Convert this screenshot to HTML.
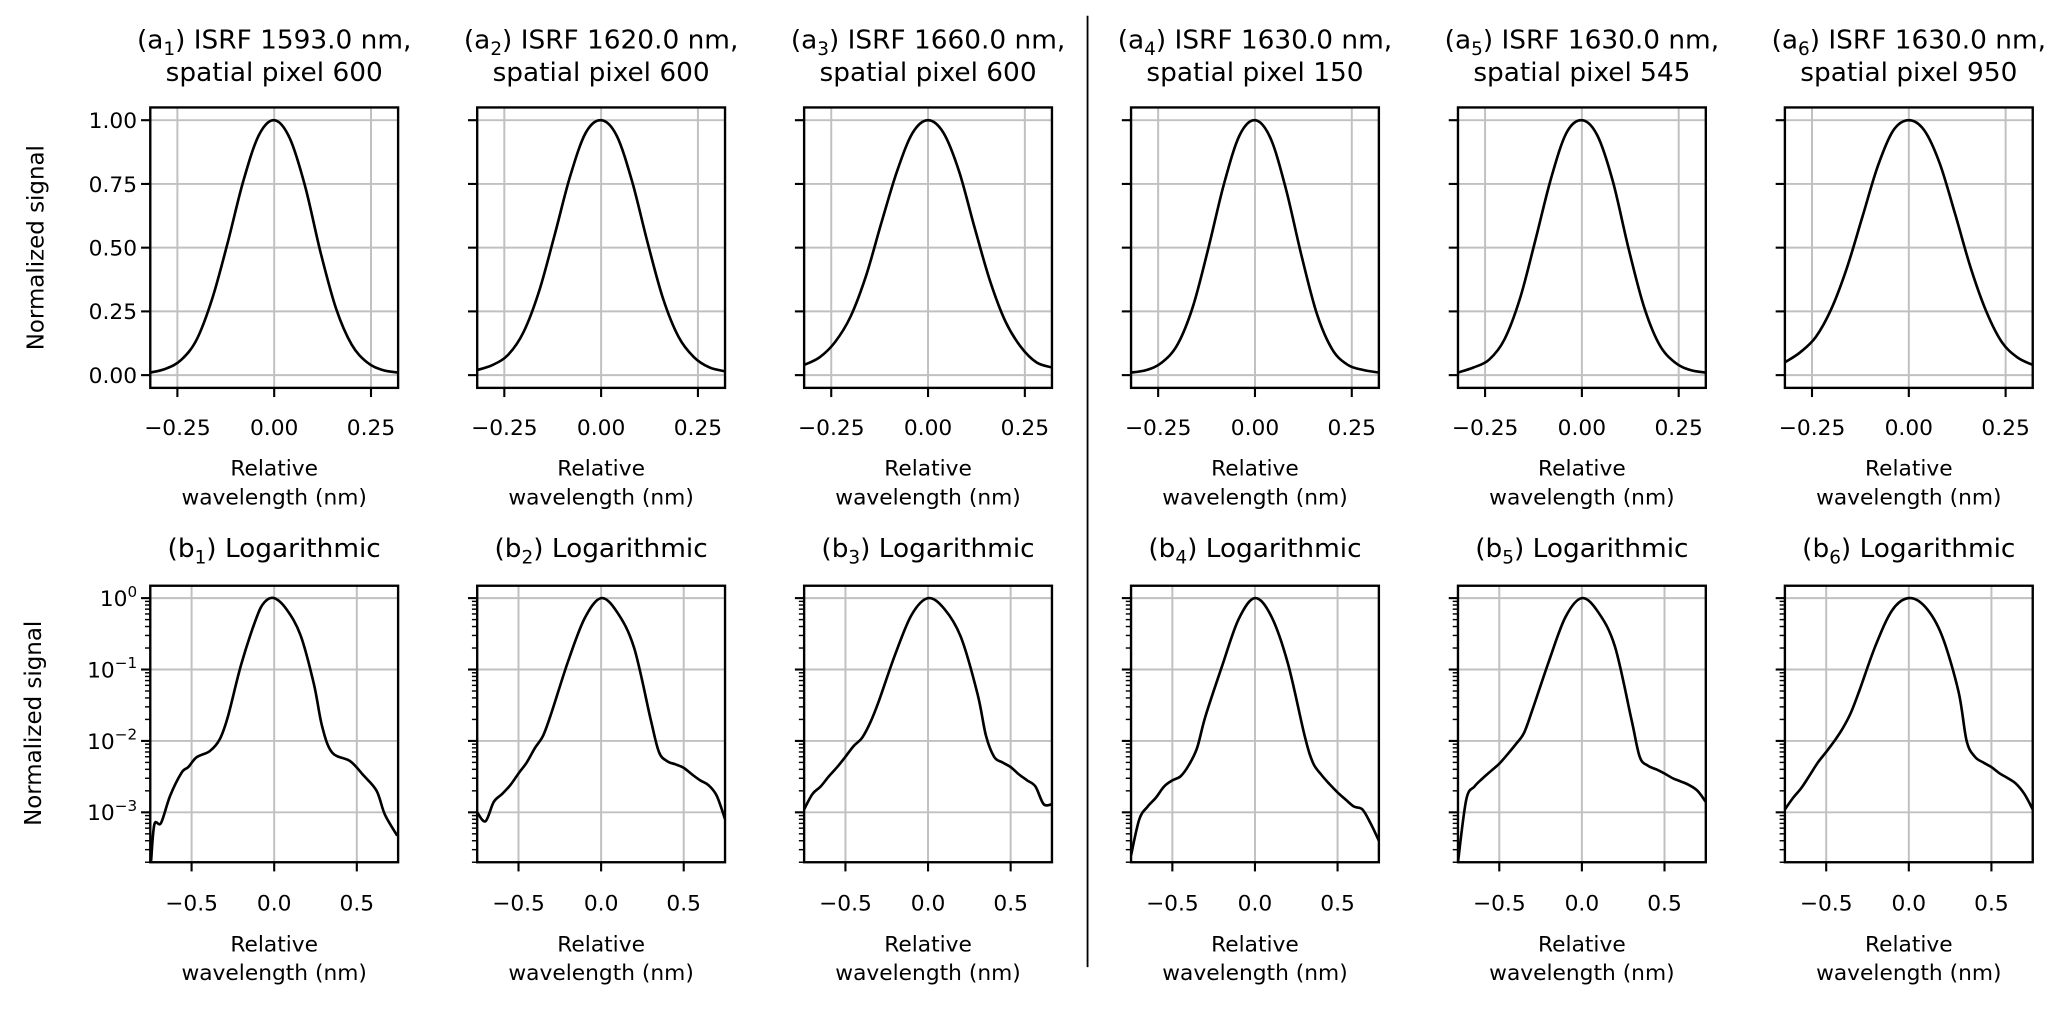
<!DOCTYPE html>
<html><head><meta charset="utf-8"><style>
html,body{margin:0;padding:0;background:#fff;}
svg{display:block;font-family:"DejaVu Sans","Liberation Sans",sans-serif;}
</style></head><body>
<svg id="fig" width="2067" height="1009" viewBox="0 0 1568 770" preserveAspectRatio="none" xmlns="http://www.w3.org/2000/svg"></svg>
<script>
// ---- data ----
const topTitlesA = ["ISRF 1593.0 nm,","ISRF 1620.0 nm,","ISRF 1660.0 nm,","ISRF 1630.0 nm,","ISRF 1630.0 nm,","ISRF 1630.0 nm,"];
const topTitlesB = ["spatial pixel 600","spatial pixel 600","spatial pixel 600","spatial pixel 150","spatial pixel 545","spatial pixel 950"];
const linXTicks = [-0.25, 0, 0.25];
const linXTickLabels = ["\u22120.25","0.00","0.25"];
const linYTicks = [0, 0.25, 0.5, 0.75, 1.0];
const linYTickLabels = ["0.00","0.25","0.50","0.75","1.00"];
const logXTicks = [-0.5, 0, 0.5];
const logXTickLabels = ["\u22120.5","0.0","0.5"];
const logYExps = [0, -1, -2, -3];

const linX = [-0.32,-0.28,-0.24,-0.2,-0.16,-0.12,-0.08,-0.04,0,0.04,0.08,0.12,0.16,0.2,0.24,0.28,0.32];
const a1 = [0.01,0.025,0.06,0.14,0.3,0.52,0.76,0.94,1.0,0.93,0.74,0.48,0.26,0.12,0.05,0.02,0.01];
const a2 = [0.02,0.04,0.08,0.17,0.33,0.55,0.78,0.95,1.0,0.94,0.76,0.52,0.3,0.15,0.07,0.03,0.015];
const a3 = [0.04,0.07,0.13,0.23,0.39,0.6,0.8,0.95,1.0,0.95,0.8,0.58,0.37,0.21,0.11,0.05,0.03];
const a4 = [0.01,0.02,0.05,0.12,0.27,0.5,0.75,0.94,1.0,0.93,0.73,0.47,0.24,0.1,0.04,0.02,0.01];
const a5 = [0.01,0.03,0.06,0.14,0.3,0.53,0.77,0.95,1.0,0.94,0.76,0.5,0.27,0.12,0.05,0.02,0.01];
const a6 = [0.05,0.09,0.15,0.26,0.42,0.62,0.82,0.96,1.0,0.96,0.83,0.63,0.42,0.25,0.13,0.07,0.04];

const b1X = [-0.745,-0.725,-0.685,-0.63,-0.56,-0.52,-0.47,-0.39,-0.33,-0.28,-0.2,-0.11,-0.06,0,0.076,0.16,0.24,0.29,0.35,0.46,0.54,0.62,0.67,0.745];
const b1 = [2.1e-4,6.8e-4,7.1e-4,1.7e-3,3.6e-3,4.3e-3,5.9e-3,7.2e-3,1.05e-2,2.2e-2,0.117,0.51,0.87,1,0.69,0.30,0.063,0.016,6.9e-3,5.2e-3,3.3e-3,2.0e-3,9.3e-4,4.7e-4];
const logX = [-0.75,-0.7,-0.65,-0.6,-0.55,-0.5,-0.45,-0.4,-0.35,-0.3,-0.2,-0.1,0,0.1,0.2,0.3,0.35,0.4,0.45,0.5,0.55,0.6,0.65,0.7,0.75];
const b2 = [1e-3,7.5e-4,1.4e-3,1.8e-3,2.4e-3,3.5e-3,5e-3,8e-3,1.2e-2,2.5e-2,0.13,0.52,1,0.62,0.2,0.02,7e-3,5.2e-3,4.7e-3,4.2e-3,3.4e-3,2.8e-3,2.4e-3,1.7e-3,8e-4];
const b3 = [1.1e-3,1.8e-3,2.3e-3,3.2e-3,4.3e-3,6e-3,8.5e-3,1.1e-2,1.8e-2,3.5e-2,0.16,0.58,1,0.7,0.28,0.045,0.012,6e-3,5e-3,4.3e-3,3.4e-3,2.8e-3,2.3e-3,1.3e-3,1.3e-3];
const b4 = [2.5e-4,8e-4,1.2e-3,1.6e-3,2.3e-3,2.8e-3,3.2e-3,4.6e-3,8e-3,2.2e-2,0.11,0.5,1,0.55,0.12,0.012,5e-3,3.4e-3,2.5e-3,1.9e-3,1.5e-3,1.2e-3,1.1e-3,7e-4,4e-4];
const b5 = [2e-4,1.5e-3,2.3e-3,3e-3,3.8e-3,4.8e-3,6.5e-3,9e-3,1.3e-2,2.7e-2,0.13,0.54,1,0.63,0.21,0.02,6e-3,4.5e-3,4e-3,3.5e-3,3e-3,2.7e-3,2.4e-3,2e-3,1.4e-3];
const b6 = [1.1e-3,1.6e-3,2.2e-3,3.3e-3,5e-3,7e-3,1e-2,1.5e-2,2.5e-2,5e-2,0.22,0.68,1,0.75,0.3,0.05,1e-2,6e-3,5e-3,4.3e-3,3.5e-3,3e-3,2.5e-3,1.8e-3,1.1e-3];

const topSeries = [a1,a2,a3,a4,a5,a6];
const botSeries = [b1,b2,b3,b4,b5,b6];
const botXs = [b1X,logX,logX,logX,logX,logX];

// ---- layout ----
const NS = "http://www.w3.org/2000/svg";
const svg = document.getElementById("fig");
const panelLefts = [114,362,610,858,1106,1354];
const PW = 188;
const TOP = {t:82, b:296, xmin:-0.32, xmax:0.32, ymin:-0.05, ymax:1.05};
const BOT = {t:447, b:658, xmin:-0.75, xmax:0.75, lmin:Math.log10(2e-4), lmax:Math.log10(1.49)};
const GRID = "#c0c0c0";
const FS = 16.5, TFS = 20;

function el(tag, attrs, parent) {
  const e = document.createElementNS(NS, tag);
  for (const k in attrs) e.setAttribute(k, attrs[k]);
  (parent || svg).appendChild(e);
  return e;
}
function txt(s, x, y, size, anchor, parent) {
  const t = el("text", {x:x, y:y, "font-size":size, "text-anchor":anchor || "middle", fill:"#000"}, parent);
  t.textContent = s;
  return t;
}
function smoothPath(pts) {
  let d = "M" + pts[0][0].toFixed(2) + "," + pts[0][1].toFixed(2);
  for (let i = 0; i < pts.length - 1; i++) {
    const p0 = pts[Math.max(0,i-1)], p1 = pts[i], p2 = pts[i+1], p3 = pts[Math.min(pts.length-1,i+2)];
    const c1x = p1[0] + (p2[0]-p0[0])/6, c1y = p1[1] + (p2[1]-p0[1])/6;
    const c2x = p2[0] - (p3[0]-p1[0])/6, c2y = p2[1] - (p3[1]-p1[1])/6;
    d += " C" + c1x.toFixed(2)+","+c1y.toFixed(2)+" "+c2x.toFixed(2)+","+c2y.toFixed(2)+" "+p2[0].toFixed(2)+","+p2[1].toFixed(2);
  }
  return d;
}

for (let i = 0; i < 6; i++) {
  const L = panelLefts[i], R = L + PW;
  // ---------- top linear panel ----------
  const gT = el("g", {});
  
  
  const xs = v => L + (v - TOP.xmin) / (TOP.xmax - TOP.xmin) * PW;
  const ys = v => TOP.b - (v - TOP.ymin) / (TOP.ymax - TOP.ymin) * (TOP.b - TOP.t);
  linXTicks.forEach((v, k) => {
    const x = xs(v);
    el("line", {x1:x, x2:x, y1:TOP.t, y2:TOP.b, stroke:GRID, "stroke-width":1.5}, gT);
    el("line", {x1:x, x2:x, y1:TOP.b, y2:TOP.b+7, stroke:"#000", "stroke-width":1.6}, gT);
    const lab = txt(linXTickLabels[k], x, 332, FS, "middle", gT);
    
    
  });
  linYTicks.forEach((v, k) => {
    const y = ys(v);
    el("line", {x1:L, x2:R, y1:y, y2:y, stroke:GRID, "stroke-width":1.5}, gT);
    el("line", {x1:L-7, x2:L, y1:y, y2:y, stroke:"#000", "stroke-width":1.6}, gT);
    if (i === 0) {
      const lab = txt(linYTickLabels[k], L-10, y+6, FS, "end", gT);
      
      
    }
  });
  const pts = linX.map((x, k) => [xs(x), ys(topSeries[i][k])]);
  const c1 = el("path", {d:smoothPath(pts), fill:"none", stroke:"#000", "stroke-width":2}, gT);
  
  
  el("rect", {x:L, y:TOP.t, width:PW, height:TOP.b-TOP.t, fill:"none", stroke:"#000", "stroke-width":1.8}, gT);
  const t1 = el("text", {x:L+PW/2, y:37, "font-size":TFS, "text-anchor":"middle"}, gT);
  
  
  t1.innerHTML = '(a<tspan font-size="14" dy="5">' + (i+1) + '</tspan><tspan dy="-5">) ' + topTitlesA[i] + '</tspan>';
  txt(topTitlesB[i], L+PW/2, 62, TFS, "middle", gT);
  const xl = txt("Relative", L+PW/2, 363, FS, "middle", gT);
  
  
  txt("wavelength (nm)", L+PW/2, 385, FS, "middle", gT);

  // ---------- bottom log panel ----------
  const gB = el("g", {});
  
  
  const bx = v => L + (v - BOT.xmin) / (BOT.xmax - BOT.xmin) * PW;
  const by = v => BOT.b - (Math.log10(v) - BOT.lmin) / (BOT.lmax - BOT.lmin) * (BOT.b - BOT.t);
  logXTicks.forEach((v, k) => {
    const x = bx(v);
    el("line", {x1:x, x2:x, y1:BOT.t, y2:BOT.b, stroke:GRID, "stroke-width":1.5}, gB);
    el("line", {x1:x, x2:x, y1:BOT.b, y2:BOT.b+7, stroke:"#000", "stroke-width":1.6}, gB);
    const lab = txt(logXTickLabels[k], x, 695, FS, "middle", gB);
    
    
  });
  for (let e = -4; e <= 0; e++) {
    for (let m = 1; m <= 9; m++) {
      const v = m * Math.pow(10, e);
      if (v < 2e-4 || v > 1.49) continue;
      const y = by(v);
      if (m === 1) {
        el("line", {x1:L, x2:R, y1:y, y2:y, stroke:GRID, "stroke-width":1.5}, gB);
        el("line", {x1:L-7, x2:L, y1:y, y2:y, stroke:"#000", "stroke-width":1.6}, gB);
      } else {
        el("line", {x1:L-4, x2:L, y1:y, y2:y, stroke:"#000", "stroke-width":1.1}, gB);
      }
    }
  }
  if (i === 0) {
    logYExps.forEach(ex => {
      const y = by(Math.pow(10, ex));
      const t = el("text", {x:L-10, y:y+6, "font-size":FS, "text-anchor":"end"}, gB);
      
      
      t.innerHTML = '10<tspan font-size="11.5" dy="-7">' + (ex < 0 ? '\u2212' + (-ex) : ex) + '</tspan>';
    });
  }
  const cp = el("clipPath", {id:"clipb"+i}, gB);
  el("rect", {x:L, y:BOT.t, width:PW, height:BOT.b-BOT.t}, cp);
  const pb = botXs[i].map((x, k) => [bx(x), by(botSeries[i][k])]);
  const c2 = el("path", {d:smoothPath(pb), fill:"none", stroke:"#000", "stroke-width":2, "clip-path":"url(#clipb"+i+")"}, gB);
  
  
  el("rect", {x:L, y:BOT.t, width:PW, height:BOT.b-BOT.t, fill:"none", stroke:"#000", "stroke-width":1.8}, gB);
  const t2 = el("text", {x:L+PW/2, y:425, "font-size":TFS, "text-anchor":"middle"}, gB);
  
  
  t2.innerHTML = '(b<tspan font-size="14" dy="5">' + (i+1) + '</tspan><tspan dy="-5">) Logarithmic</tspan>';
  const xl2 = txt("Relative", L+PW/2, 726, FS, "middle", gB);
  
  
  txt("wavelength (nm)", L+PW/2, 748, FS, "middle", gB);
}
// y axis titles
const yt1 = el("text", {x:0, y:0, "font-size":17.5, "text-anchor":"middle", transform:"translate(33,189) rotate(-90)"});


yt1.textContent = "Normalized signal";
const yt2 = el("text", {x:0, y:0, "font-size":17.5, "text-anchor":"middle", transform:"translate(31,552) rotate(-90)"});


yt2.textContent = "Normalized signal";
// divider
const dv = el("line", {x1:825, x2:825, y1:12, y2:738, stroke:"#000", "stroke-width":1.4});


</script>
</body></html>
